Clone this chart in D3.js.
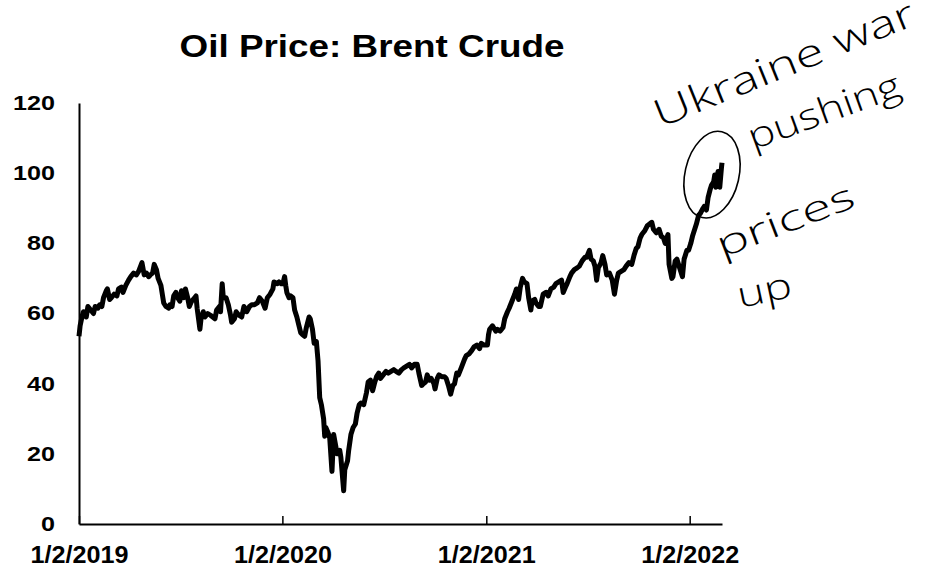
<!DOCTYPE html>
<html>
<head>
<meta charset="utf-8">
<script src="https://cdn.jsdelivr.net/npm/d3@7"></script>
<style>
  html, body { margin: 0; padding: 0; background: #fff; }
  svg { display: block; }
</style>
</head>
<body>
<div id="chart"></div>
<script>
// Brent crude spot (USD / barrel)
const dates = [
  "2019-01-02","2019-01-04","2019-01-08","2019-01-10","2019-01-15","2019-01-18","2019-01-23","2019-01-28","2019-01-31",
  "2019-02-05","2019-02-08","2019-02-12","2019-02-15","2019-02-20","2019-02-22","2019-02-26",
  "2019-03-01","2019-03-06","2019-03-11","2019-03-14","2019-03-19","2019-03-22","2019-03-27",
  "2019-04-01","2019-04-05","2019-04-10","2019-04-15","2019-04-19","2019-04-25","2019-04-29",
  "2019-05-03","2019-05-07","2019-05-10","2019-05-14","2019-05-17","2019-05-21","2019-05-24","2019-05-29",
  "2019-06-03","2019-06-07","2019-06-12","2019-06-14","2019-06-18","2019-06-21","2019-06-25","2019-06-28",
  "2019-07-02","2019-07-05","2019-07-09","2019-07-12","2019-07-16","2019-07-19","2019-07-23","2019-07-26","2019-07-31",
  "2019-08-02","2019-08-07","2019-08-09","2019-08-13","2019-08-16","2019-08-21","2019-08-26","2019-08-30",
  "2019-09-03","2019-09-06","2019-09-11","2019-09-13","2019-09-16","2019-09-18","2019-09-23","2019-09-27",
  "2019-10-01","2019-10-03","2019-10-08","2019-10-11","2019-10-16","2019-10-21","2019-10-25","2019-10-30",
  "2019-11-04","2019-11-08","2019-11-13","2019-11-18","2019-11-22","2019-11-27",
  "2019-12-02","2019-12-06","2019-12-11","2019-12-16","2019-12-18","2019-12-24","2019-12-27","2019-12-31",
  "2020-01-03","2020-01-06","2020-01-08","2020-01-10","2020-01-14","2020-01-17","2020-01-21","2020-01-24","2020-01-28","2020-01-31",
  "2020-02-04","2020-02-07","2020-02-11","2020-02-14","2020-02-19","2020-02-21","2020-02-25","2020-02-28",
  "2020-03-03","2020-03-06","2020-03-09","2020-03-12","2020-03-16","2020-03-18","2020-03-20","2020-03-24","2020-03-27","2020-03-31",
  "2020-04-03","2020-04-07","2020-04-09","2020-04-14","2020-04-16","2020-04-21","2020-04-23","2020-04-28","2020-04-30",
  "2020-05-04","2020-05-08","2020-05-12","2020-05-15","2020-05-19","2020-05-22","2020-05-27",
  "2020-06-01","2020-06-04","2020-06-08","2020-06-12","2020-06-16","2020-06-19","2020-06-23","2020-06-26",
  "2020-07-01","2020-07-06","2020-07-10","2020-07-15","2020-07-20","2020-07-24","2020-07-29",
  "2020-08-03","2020-08-07","2020-08-12","2020-08-17","2020-08-21","2020-08-26","2020-08-31",
  "2020-09-03","2020-09-08","2020-09-11","2020-09-15","2020-09-18","2020-09-22","2020-09-25","2020-09-30",
  "2020-10-02","2020-10-06","2020-10-09","2020-10-14","2020-10-19","2020-10-22","2020-10-26","2020-10-30",
  "2020-11-03","2020-11-06","2020-11-10","2020-11-13","2020-11-18","2020-11-24","2020-11-27",
  "2020-12-02","2020-12-07","2020-12-11","2020-12-16","2020-12-21","2020-12-24","2020-12-29",
  "2021-01-04","2021-01-06","2021-01-08","2021-01-13","2021-01-19","2021-01-22","2021-01-27",
  "2021-02-01","2021-02-04","2021-02-09","2021-02-12","2021-02-17","2021-02-22","2021-02-25",
  "2021-03-01","2021-03-04","2021-03-08","2021-03-11","2021-03-16","2021-03-19","2021-03-23","2021-03-25","2021-03-30",
  "2021-04-01","2021-04-06","2021-04-09","2021-04-14","2021-04-19","2021-04-23","2021-04-28",
  "2021-05-03","2021-05-07","2021-05-12","2021-05-17","2021-05-20","2021-05-24","2021-05-27",
  "2021-06-01","2021-06-04","2021-06-09","2021-06-14","2021-06-18","2021-06-23","2021-06-28",
  "2021-07-01","2021-07-06","2021-07-09","2021-07-13","2021-07-16","2021-07-19","2021-07-22","2021-07-27","2021-07-30",
  "2021-08-03","2021-08-06","2021-08-11","2021-08-16","2021-08-20","2021-08-24","2021-08-27",
  "2021-09-01","2021-09-06","2021-09-10","2021-09-15","2021-09-20","2021-09-24","2021-09-28",
  "2021-10-01","2021-10-05","2021-10-08","2021-10-13","2021-10-18","2021-10-22","2021-10-26","2021-10-29",
  "2021-11-03","2021-11-08","2021-11-12","2021-11-16","2021-11-19","2021-11-24","2021-11-26",
  "2021-12-01","2021-12-03","2021-12-07","2021-12-10","2021-12-14","2021-12-17","2021-12-20","2021-12-23","2021-12-28","2021-12-31",
  "2022-01-04","2022-01-07","2022-01-11","2022-01-14","2022-01-18","2022-01-21","2022-01-26","2022-01-28",
  "2022-02-01","2022-02-04","2022-02-08","2022-02-10","2022-02-14","2022-02-16","2022-02-18","2022-02-22","2022-02-24","2022-02-25","2022-02-28","2022-03-01"
];
const prices = [
  53.5,56.5,59.5,60.5,59.0,62.0,61.0,60.0,62.0,
  61.5,62.5,62.0,64.5,66.5,67.0,64.0,
  64.5,65.5,65.0,67.0,67.5,66.0,68.0,
  69.5,70.5,71.5,71.0,72.0,74.5,71.0,
  71.5,70.5,71.0,71.5,74.0,72.5,70.0,68.0,
  63.0,62.0,61.5,62.5,62.0,65.0,66.0,64.5,
  63.5,66.5,64.5,67.0,64.5,62.0,63.5,64.0,65.0,
  61.5,55.5,58.5,60.5,59.0,60.0,59.5,59.0,
  58.5,61.0,62.0,60.5,68.5,64.5,64.5,62.5,
  59.5,57.5,58.5,60.5,59.5,59.0,62.0,60.5,
  62.0,62.5,62.5,63.0,64.5,63.5,
  61.5,64.5,65.5,67.0,69.0,68.5,69.0,68.5,
  68.5,70.5,68.0,66.0,64.5,65.0,64.5,61.0,59.0,57.0,
  54.5,54.0,53.5,56.0,59.0,58.5,55.5,51.5,
  52.0,46.5,36.0,34.0,30.0,25.0,27.5,26.0,24.5,15.0,
  25.5,22.0,20.0,21.0,19.0,9.5,15.5,18.0,21.0,
  25.5,27.5,28.5,31.5,34.0,34.5,34.0,
  37.5,40.5,41.0,38.0,40.5,42.0,43.0,41.5,
  42.5,43.5,43.0,43.5,44.0,43.5,43.0,
  44.0,44.5,45.0,45.5,44.5,45.5,45.5,
  43.0,39.5,40.0,40.5,42.5,41.0,41.5,40.0,
  38.5,41.5,42.5,42.0,42.0,41.5,39.5,37.0,
  39.5,40.0,43.0,42.5,44.5,47.0,48.0,
  48.5,49.5,50.5,51.0,50.0,51.5,51.0,
  51.0,54.0,55.5,56.5,55.0,55.5,55.0,
  56.0,58.5,60.5,61.5,63.5,65.5,67.0,
  64.0,67.5,70.0,69.0,68.5,64.5,61.0,63.5,64.0,
  63.0,62.0,62.0,65.5,66.0,65.0,67.0,
  67.5,68.5,69.0,69.5,66.0,67.5,68.5,
  70.5,71.5,72.5,73.0,73.5,75.0,76.0,
  76.0,78.0,75.5,75.0,73.5,69.5,73.0,74.5,76.5,
  74.0,71.0,71.5,69.5,65.5,69.5,71.5,
  72.0,72.5,73.5,74.5,74.0,76.5,78.5,
  79.0,81.5,82.5,83.5,85.0,85.5,86.0,84.0,
  83.0,84.0,82.0,81.5,80.0,82.5,74.0,
  70.0,70.5,75.0,75.5,73.5,72.0,70.5,75.5,78.0,78.0,
  80.0,82.0,84.0,85.5,88.0,88.5,90.0,90.5,
  89.5,93.0,95.5,96.5,97.5,99.5,96.0,100.5,99.0,96.0,101.5,103.0
];
const yTicks = [0, 20, 40, 60, 80, 100, 120];
const xTicks = ["2019-01-02", "2020-01-02", "2021-01-02", "2022-01-02"];
const title = "Oil Price: Brent Crude";
const note = ["Ukraine war", "pushing", "prices", "up"];

const width = 947, height = 570;
const parse = d3.timeParse("%Y-%m-%d");
const data = dates.map((d, i) => ({date: parse(d), value: prices[i]}));

const svg = d3.select("#chart").append("svg")
  .attr("width", width)
  .attr("height", height);

const x = d3.scaleTime()
  .domain([parse("2019-01-02"), parse("2022-03-01")])
  .range([79, 722]);

const y = d3.scaleLinear()
  .domain([0, 120])
  .range([524, 103]);

const font = "'Liberation Sans', Arial, Helvetica, sans-serif";

// title
svg.append("text")
  .attr("x", 372)
  .attr("y", 57)
  .attr("text-anchor", "middle")
  .attr("font-family", font)
  .attr("font-weight", "bold")
  .attr("font-size", 32)
  .attr("textLength", 385)
  .attr("lengthAdjust", "spacingAndGlyphs")
  .text(title);

// y axis
const yAxis = svg.append("g")
  .attr("transform", "translate(79,0)")
  .call(d3.axisLeft(y).tickValues(yTicks).tickSize(0).tickPadding(24));
yAxis.select(".domain").attr("stroke", "#000").attr("stroke-width", 2);
yAxis.selectAll("text")
  .attr("font-family", font)
  .attr("font-weight", "bold")
  .attr("font-size", 20)
  .attr("fill", "#000")
  .attr("textLength", d => String(d).length * 14)
  .attr("lengthAdjust", "spacingAndGlyphs");

// x axis
const fmt = d3.timeFormat("%-m/%-d/%Y");
const xAxis = svg.append("g")
  .attr("transform", "translate(0,524)")
  .call(d3.axisBottom(x).tickValues(xTicks.map(parse)).tickFormat(fmt)
    .tickSizeInner(-8).tickSizeOuter(0));
xAxis.select(".domain").attr("stroke", "#000").attr("stroke-width", 2);
xAxis.selectAll(".tick line").attr("stroke", "#000").attr("stroke-width", 1.5);
xAxis.selectAll("text")
  .attr("y", 39)
  .attr("dy", null)
  .attr("font-family", font)
  .attr("font-weight", "bold")
  .attr("font-size", 24)
  .attr("fill", "#000")
  .attr("textLength", 98)
  .attr("lengthAdjust", "spacingAndGlyphs");

// price line
const line = d3.line()
  .x(d => x(d.date))
  .y(d => y(d.value));

svg.append("path")
  .datum(data)
  .attr("fill", "none")
  .attr("stroke", "#000")
  .attr("stroke-width", 5)
  .attr("stroke-linejoin", "round")
  .attr("d", line);

// handwritten note
const last = data[data.length - 1];
svg.append("ellipse")
  .attr("cx", x(last.date) - 10)
  .attr("cy", y(last.value) + 12)
  .attr("rx", 27)
  .attr("ry", 44)
  .attr("transform", `rotate(13, ${x(last.date) - 10}, ${y(last.value) + 12})`)
  .attr("fill", "none")
  .attr("stroke", "#000")
  .attr("stroke-width", 1.6);

const handFont = "'Open Sans', 'Noto Sans', sans-serif";
const notePos = [
  {x: 660, y: 128, a: -22, len: 278, size: 38},
  {x: 753, y: 150, a: -20, len: 160, size: 36},
  {x: 722, y: 258, a: -21, len: 145, size: 36},
  {x: 740, y: 308, a: -12, len: 55, size: 36}
];
svg.selectAll("text.note")
  .data(note)
  .join("text")
  .attr("class", "note")
  .attr("transform", (d, i) => `translate(${notePos[i].x},${notePos[i].y}) rotate(${notePos[i].a})`)
  .attr("font-family", handFont)
  .attr("font-weight", 300)
  .attr("font-size", (d, i) => notePos[i].size)
  .attr("textLength", (d, i) => notePos[i].len)
  .attr("lengthAdjust", "spacingAndGlyphs")
  .attr("fill", "#000")
  .text(d => d);
</script>
</body>
</html>
